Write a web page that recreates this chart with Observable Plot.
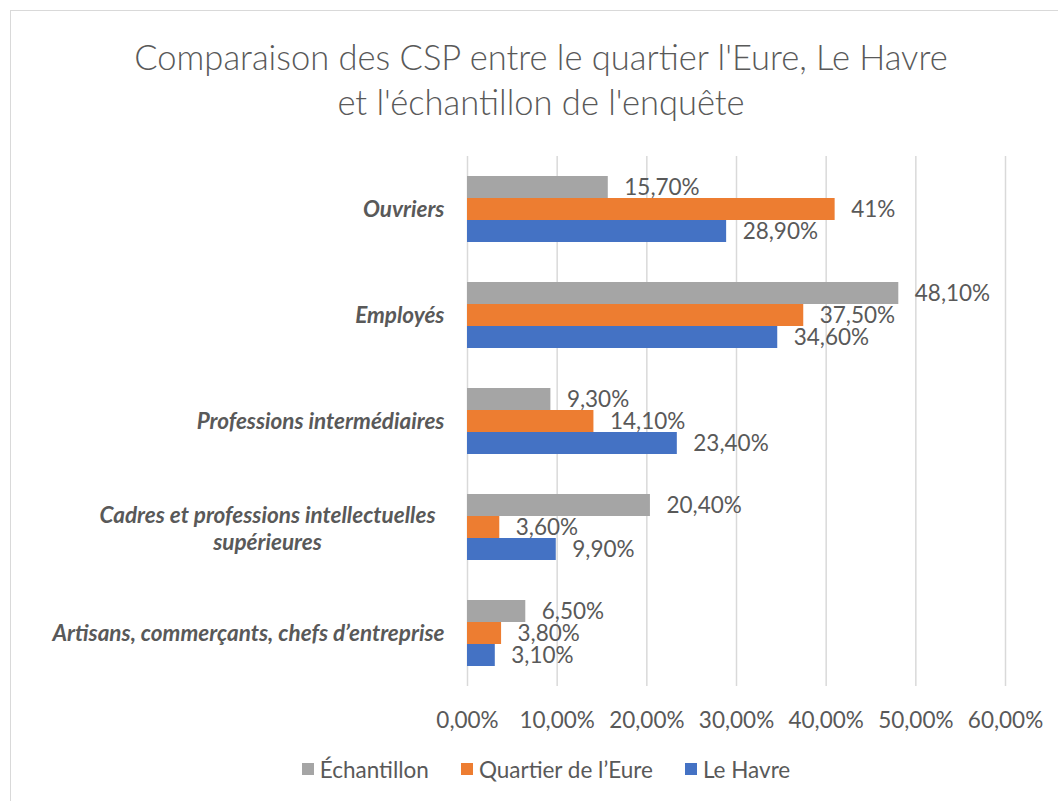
<!DOCTYPE html>
<html><head><meta charset="utf-8">
<script src="https://cdn.jsdelivr.net/npm/d3@7"></script>
<script src="https://cdn.jsdelivr.net/npm/@observablehq/plot@0.6"></script>
<style>
body{margin:0;background:#fff;font-family:Lato,"Open Sans",sans-serif;color:#595959}
#wrap{position:relative;width:1058px;height:801px;overflow:hidden;background:#fff}
#frame{position:absolute;left:10px;top:10px;width:1060px;height:800px;border:1px solid #d9d9d9;box-sizing:border-box}
#title{position:absolute;left:11px;width:1060px;top:34px;text-align:center;font-size:34.5px;line-height:45px;font-weight:300;color:#595959}
#plot{position:absolute;left:0;top:0}
#plot svg [aria-label^="fy-axis"] text{font-style:italic;font-weight:bold}
.catlab{font-style:italic;font-weight:bold}
#legend{position:absolute;left:17px;width:1058px;top:757px;height:24px;display:flex;justify-content:center;align-items:center;font-size:22.5px;color:#595959}
.li{display:flex;align-items:center;margin:0 16px}
.sw{width:12px;height:12px;margin-right:6px}
</style></head>
<body>
<div id="wrap">
  <div id="frame"></div>
  <div id="title">Comparaison des CSP entre le quartier l'Eure, Le Havre<br>et l'échantillon de l'enquête</div>
  <div id="plot"></div>
  <div id="legend"></div>
</div>
<script>
const categories = ["Ouvriers", "Employés", "Professions intermédiaires", "Cadres et professions intellectuelles supérieures", "Artisans, commerçants, chefs d’entreprise"];
const series = ["Échantillon", "Quartier de l’Eure", "Le Havre"];
const colors = ["#A5A5A5", "#ED7D31", "#4472C4"];
const echantillon = [15.7, 48.1, 9.3, 20.4, 6.5];
const quartier = [41, 37.5, 14.1, 3.6, 3.8];
const havre = [28.9, 34.6, 23.4, 9.9, 3.1];
const xTicks = [0, 10, 20, 30, 40, 50, 60];
const cadresLabel = "Cadres et professions intellectuelles\nsupérieures";

const values = [echantillon, quartier, havre];
const data = [];
categories.forEach((c, i) => series.forEach((s, j) => data.push({cat: c, series: s, value: values[j][i]})));

const fmtLabel = v => (Number.isInteger(v) ? String(v) : v.toFixed(2).replace(".", ",")) + "%";
const fmtTick = v => v.toFixed(2).replace(".", ",") + "%";

const chart = Plot.plot({
  width: 1058,
  height: 745,
  marginLeft: 467,
  marginRight: 53,
  marginTop: 156,
  marginBottom: 59,
  style: {fontFamily: "Lato, 'Open Sans', sans-serif", fontSize: "22.5px", color: "#595959", background: "transparent"},
  facet: {data, y: "cat", marginLeft: 467},
  fy: {domain: categories, paddingInner: 40/106, paddingOuter: 20/106, tickSize: 0, tickPadding: 23, label: null,
       tickFormat: d => d === categories[3] ? "" : d},
  y: {domain: series, padding: 0, axis: null},
  x: {domain: [0, 60], axis: null},
  color: {domain: series, range: colors},
  marks: [
    Plot.ruleX(xTicks, {stroke: "#d9d9d9", strokeWidth: 1.5, insetTop: -20, insetBottom: -20}),
    Plot.barX(data, {x: "value", y: "series", fill: "series"}),
    Plot.text(data, {x: "value", y: "series", text: d => fmtLabel(d.value), textAnchor: "start", dx: 16, fill: "#595959", fontSize: 22.5}),
    Plot.text(data, {filter: d => d.cat === categories[3] && d.series === series[1], y: "series", frameAnchor: "left", dx: -200,
      textAnchor: "middle", text: () => cadresLabel, lineHeight: 1.22, fill: "#595959", fontSize: 22.5, className: "catlab"}),
    Plot.axisX(xTicks, {tickSize: 0, tickPadding: 46, tickFormat: fmtTick, label: null, fontSize: 22.5, fill: "#595959"})
  ]
});
document.getElementById("plot").appendChild(chart);

const legend = document.getElementById("legend");
series.forEach((s, j) => {
  const li = document.createElement("div");
  li.className = "li";
  li.innerHTML = `<span class="sw" style="background:${colors[j]}"></span><span>${s}</span>`;
  legend.appendChild(li);
});
</script>
</body></html>
